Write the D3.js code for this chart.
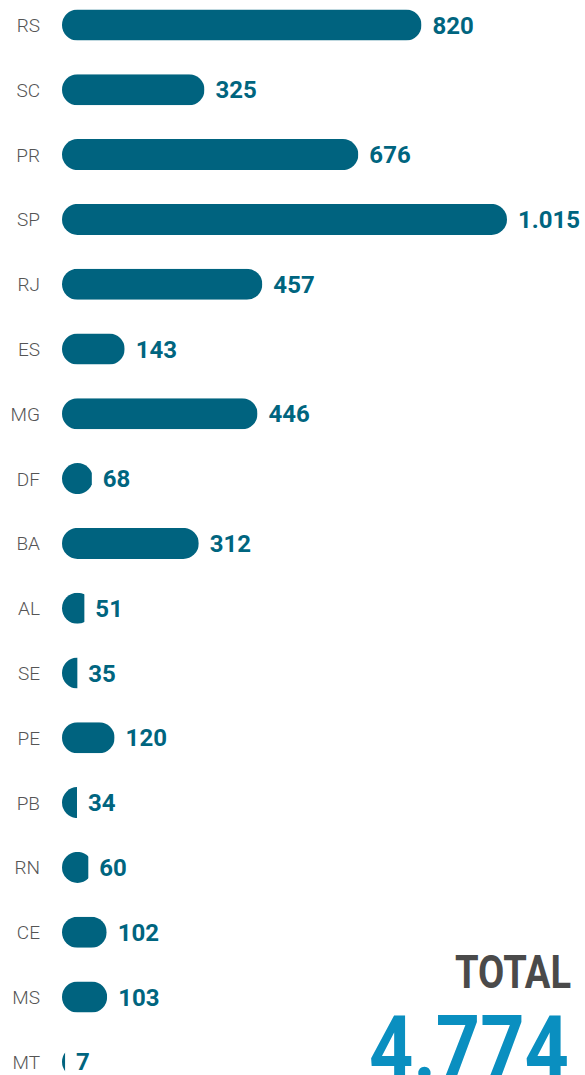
<!DOCTYPE html>
<html><head><meta charset="utf-8">
<script src="https://cdn.jsdelivr.net/npm/d3@7"></script>
<style>html,body{margin:0;padding:0;background:#fff;overflow:hidden}</style>
</head><body>
<script>
const categories = ["RS","SC","PR","SP","RJ","ES","MG","DF","BA","AL","SE","PE","PB","RN","CE","MS","MT"];
const values = [820,325,676,1015,457,143,446,68,312,51,35,120,34,60,102,103,7];
const valueLabels = ["820","325","676","1.015","457","143","446","68","312","51","35","120","34","60","102","103","7"];
const totalTitle = "TOTAL";
const totalValue = "4.774";

const W = 585, H = 1075;
const svg = d3.select("body").append("svg").attr("width", W).attr("height", H);

const x = d3.scaleLinear().domain([0, 1015]).range([62, 507]);
const y = d3.scalePoint().domain(categories).range([25, 1061.8]);
const bh = 31, r = bh / 2;
const barColor = "#00637f";

const defs = svg.append("defs");
categories.forEach((c, i) => {
  const w = x(values[i]) - x(0);
  defs.append("clipPath").attr("id", "clip" + i)
    .append("rect").attr("x", x(0)).attr("y", y(c) - r).attr("width", w).attr("height", bh);
});

const g = svg.append("g");
categories.forEach((c, i) => {
  const w = x(values[i]) - x(0);
  g.append("rect")
    .attr("x", x(0)).attr("y", y(c) - r)
    .attr("width", Math.max(w, bh)).attr("height", bh)
    .attr("rx", r).attr("ry", r)
    .attr("fill", barColor)
    .attr("clip-path", "url(#clip" + i + ")");
  g.append("text")
    .attr("x", 40).attr("y", y(c) + 7)
    .attr("text-anchor", "end")
    .attr("font-family", "Roboto").attr("font-weight", 300)
    .attr("font-size", 19).attr("fill", "#555")
    .text(c);
  g.append("text")
    .attr("x", x(values[i]) + 11).attr("y", y(c) + 8.5)
    .attr("font-family", "Roboto").attr("font-weight", 700)
    .attr("font-size", 24).attr("fill", "#00657f")
    .text(valueLabels[i]);
});

svg.append("text")
  .attr("x", 571).attr("y", 988).attr("text-anchor", "end")
  .attr("font-family", "Roboto").attr("font-weight", 700)
  .attr("font-size", 46).attr("fill", "#4a4a4a")
  .attr("textLength", 116).attr("lengthAdjust", "spacingAndGlyphs")
  .text(totalTitle);

svg.append("text")
  .attr("x", 569).attr("y", 1080).attr("text-anchor", "end")
  .attr("font-family", "Roboto").attr("font-weight", 700)
  .attr("font-size", 90).attr("fill", "#0a8fc0")
  .attr("textLength", 200).attr("lengthAdjust", "spacingAndGlyphs")
  .text(totalValue);
</script>
</body></html>
